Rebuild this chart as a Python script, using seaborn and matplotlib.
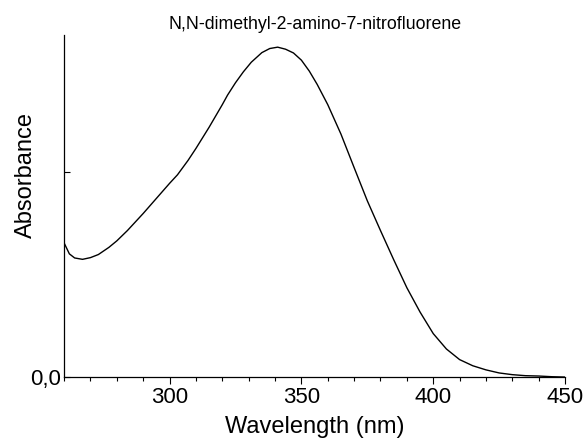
import numpy as np
import pandas as pd
import matplotlib
matplotlib.use("Agg")
import matplotlib.pyplot as plt
import seaborn as sns
from matplotlib.ticker import MultipleLocator

# Spectrum (absorbance in arbitrary units).
wavelength = [260, 262, 264, 267, 270, 273, 277, 280, 284, 290, 295, 300, 303,
              307, 310, 315, 320, 322, 325, 328, 331, 335, 338, 341, 344, 347,
              350, 353, 356, 360, 365, 370, 375, 380, 385, 390, 395, 400, 405,
              410, 415, 420, 425, 430, 435, 440, 445, 450]
absorbance = [0.392, 0.360, 0.348, 0.344, 0.349, 0.358, 0.379, 0.398, 0.428,
              0.478, 0.522, 0.566, 0.591, 0.633, 0.668, 0.730, 0.796, 0.824,
              0.860, 0.892, 0.920, 0.948, 0.960, 0.964, 0.958, 0.947, 0.926,
              0.894, 0.855, 0.796, 0.710, 0.612, 0.515, 0.428, 0.343, 0.261,
              0.190, 0.127, 0.082, 0.051, 0.033, 0.021, 0.012, 0.007, 0.004,
              0.003, 0.001, 0.0]

df = pd.DataFrame({"Wavelength": wavelength, "Absorbance": absorbance})

sns.set_style("ticks")
plt.rcParams["font.family"] = ["Liberation Sans", "DejaVu Sans"]
plt.rcParams["text.color"] = "black"
plt.rcParams["axes.labelcolor"] = "black"
plt.rcParams["xtick.color"] = "black"
plt.rcParams["ytick.color"] = "black"

fig = plt.figure(figsize=(5.88, 4.41), dpi=100)
ax = fig.add_axes([0.109, 0.145, 0.852, 0.776])

sns.lineplot(data=df, x="Wavelength", y="Absorbance", color="black",
             linewidth=1.0, ax=ax)

ax.set_xlim(260, 450)
ax.set_ylim(0, 1.0)
ax.xaxis.set_minor_locator(MultipleLocator(10))
ax.set_xticks([300, 350, 400, 450])
ax.set_yticks([0, 0.6])
ax.set_yticklabels(["0,0", ""])

ax.tick_params(axis="x", which="major", direction="out", length=5, width=0.8,
               labelsize=16, pad=2)
ax.tick_params(axis="x", which="minor", direction="out", length=3, width=0.8)
ax.tick_params(axis="y", direction="in", length=4, width=0.8, labelsize=16,
               pad=2)

for side in ["left", "bottom"]:
    ax.spines[side].set_linewidth(0.9)
    ax.spines[side].set_color("black")
sns.despine(ax=ax)

ax.set_xlabel("Wavelength (nm)", fontsize=17, labelpad=6)
ax.set_ylabel("Absorbance", fontsize=17)
ax.yaxis.set_label_coords(-0.055, 0.59)
ax.set_title("N,N-dimethyl-2-amino-7-nitrofluorene", fontsize=12.8, pad=4)

fig.savefig("out.png", dpi=100)
